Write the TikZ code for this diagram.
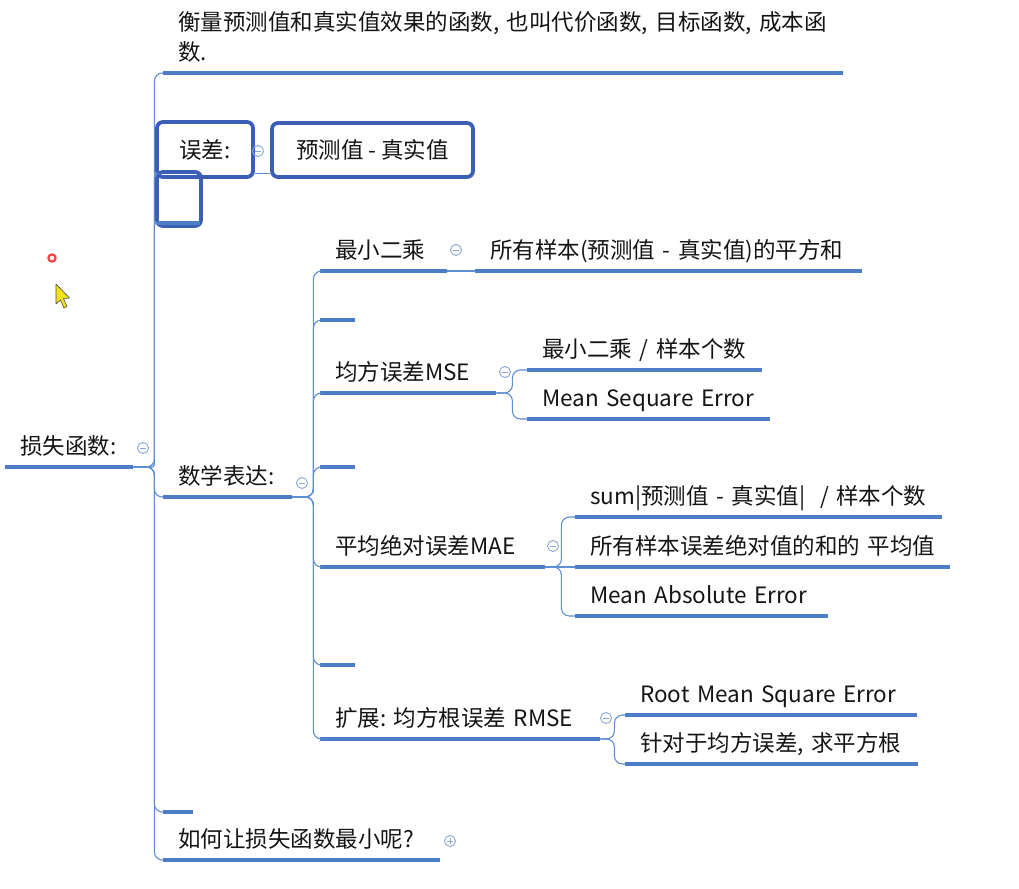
\documentclass[tikz,border=0pt]{standalone}
\usepackage{fontspec}
\setmainfont{Noto Sans CJK SC}
\definecolor{txt}{HTML}{141414}
\definecolor{ulc}{HTML}{4C7DC5}
\definecolor{connc}{HTML}{5E8ED3}
\definecolor{boxc}{HTML}{3A5FB4}
\definecolor{foldc}{HTML}{8AA6D6}
\definecolor{cursorc}{HTML}{F2E21C}
\begin{document}
\begin{tikzpicture}[x=1pt,y=-1pt,
  every node/.style={font=\fontsize{22.5}{30}\selectfont, text=txt},
  topic/.style={anchor=south west, inner xsep=15pt, inner ysep=7.5pt, text height=17pt, text depth=5pt, align=left},
  desc/.style={anchor=south west, inner xsep=15pt, inner ysep=10pt, align=left},
  selbox/.style={draw=boxc, line width=3.8pt, rounded corners=6pt, inner sep=0pt},
  uline/.style={draw=ulc, line width=3.6pt},
  conn/.style={draw=connc, line width=1.1pt, rounded corners=8pt},
  fold/.style={circle, draw=foldc, line width=0.9pt, minimum size=11pt, inner sep=0pt,
    path picture={\draw[foldc, line width=0.9pt] ([xshift=-3pt]path picture bounding box.center) -- ([xshift=3pt]path picture bounding box.center);}},
  foldplus/.style={fold,
    path picture={\draw[foldc, line width=0.9pt] ([xshift=-3pt]path picture bounding box.center) -- ([xshift=3pt]path picture bounding box.center)
      ([yshift=-3pt]path picture bounding box.center) -- ([yshift=3pt]path picture bounding box.center);}},
]
\useasboundingbox (0,0) rectangle (1019,888);

% root
\node[topic, text width=98pt] (root) at (5,467) {损失函数:};
\node[fold] (froot) at (143,448) {};

% main children
\node[desc, text width=650pt] (desc) at (163,73) {衡量预测值和真实值效果的函数, 也叫代价函数, 目标函数, 成本函\\数.};
\node[selbox, minimum width=96pt, minimum height=55pt] (err) at (205,149.5) {误差:};
\node[fold] (ferr) at (258,151) {};
\node[selbox, minimum width=201pt, minimum height=54pt] (errv) at (372.5,150) {预测值~-~真实值};
\node[selbox, minimum width=44pt, minimum height=54pt] (empty) at (179,199) {};
\node[topic, text width=99pt] (math) at (163,497) {数学表达:};
\node[fold] (fmath) at (302,483) {};
\node[topic, text width=0pt] (s0) at (163,812) {};
\node[topic, text width=247pt] (how) at (163,860) {如何让损失函数最小呢?};
\node[foldplus] (fhow) at (450,841) {};

% math children
\node[topic, text width=97pt] (lsq) at (320,271) {最小二乘};
\node[fold] (flsq) at (456,250) {};
\node[topic, text width=357pt] (lsqv) at (475,271) {所有样本(预测值~-~真实值)的平方和};
\node[topic, text width=5pt] (s1) at (320,320) {};
\node[topic, text width=146pt] (mse) at (320,393) {均方误差MSE};
\node[fold] (fmse) at (505,372) {};
\node[topic, text width=205pt] (mse1) at (527,370) {最小二乘~/~样本个数};
\node[topic, text width=213pt] (mse2) at (527,419) {Mean~Sequare~Error};
\node[topic, text width=5pt] (s2) at (320,467) {};
\node[topic, text width=195pt] (mae) at (320,567) {平均绝对误差MAE};
\node[fold] (fmae) at (553,546) {};
\node[topic, text width=337pt] (mae1) at (575,517) {sum|预测值~-~真实值|~~/~样本个数};
\node[topic, text width=345pt] (mae2) at (575,567) {所有样本误差绝对值的和的~平均值};
\node[topic, text width=223pt] (mae3) at (575,616) {Mean~Absolute~Error};
\node[topic, text width=5pt] (s3) at (320,665) {};
\node[topic, text width=250pt] (rmse) at (320,739) {扩展:~均方根误差~RMSE};
\node[fold] (frmse) at (606,718) {};
\node[topic, text width=262pt] (rmse1) at (625,715) {Root~Mean~Square~Error};
\node[topic, text width=263pt] (rmse2) at (625,764) {针对于均方误差,~求平方根};

% underlines
\foreach \n in {root,desc,math,s0,how,lsq,lsqv,s1,mse,mse1,mse2,s2,mae,mae1,mae2,mae3,s3,rmse,rmse1,rmse2}
  \draw[uline] (\n.south west) -- (\n.south east);
\draw[uline] ([xshift=3pt,yshift=5pt]empty.south west) -- ([xshift=-3pt,yshift=5pt]empty.south east);

% connectors: root
\draw[conn] (root.south east) -- ++(21,0) |- (desc.south west);
\draw[conn, rounded corners=3pt] (root.south east) -- ++(21,0) |- ([yshift=5pt]err.south west);
\draw[conn, rounded corners=3pt] (root.south east) -- ++(21,0) |- ([yshift=5pt]empty.south west);
\draw[conn] (root.south east) -- ++(21,0) |- (math.south west);
\draw[conn] (root.south east) -- ++(21,0) |- (s0.south west);
\draw[conn] (root.south east) -- ++(21,0) |- (how.south west);
\draw[conn] ([yshift=5pt]err.south east) -- ([yshift=5pt]errv.south west);

% connectors: math
\foreach \c in {lsq,s1,mse,s2,mae,s3,rmse}
  \draw[conn] (math.south east) -- ++(21,0) |- (\c.south west);
\draw[conn] (lsq.south east) -- (lsqv.south west);
\foreach \c in {mse1,mse2}
  \draw[conn] (mse.south east) -- ++(16,0) |- (\c.south west);
\foreach \c in {mae1,mae3}
  \draw[conn] (mae.south east) -- ++(16,0) |- (\c.south west);
\draw[conn] (mae.south east) -- (mae2.south west);
\foreach \c in {rmse1,rmse2}
  \draw[conn] (rmse.south east) -- ++(14,0) |- (\c.south west);

% screen marks
\draw[red!75, line width=2.2pt] (52,258) circle (3.6pt);
\filldraw[fill=cursorc, draw=black!70, line width=0.6pt, line join=round]
  (56,284) -- (56,304) -- (60.5,300) -- (64,308) -- (67,306.5) -- (63.5,298.5) -- (69.5,298) -- cycle;
\end{tikzpicture}
\end{document}
